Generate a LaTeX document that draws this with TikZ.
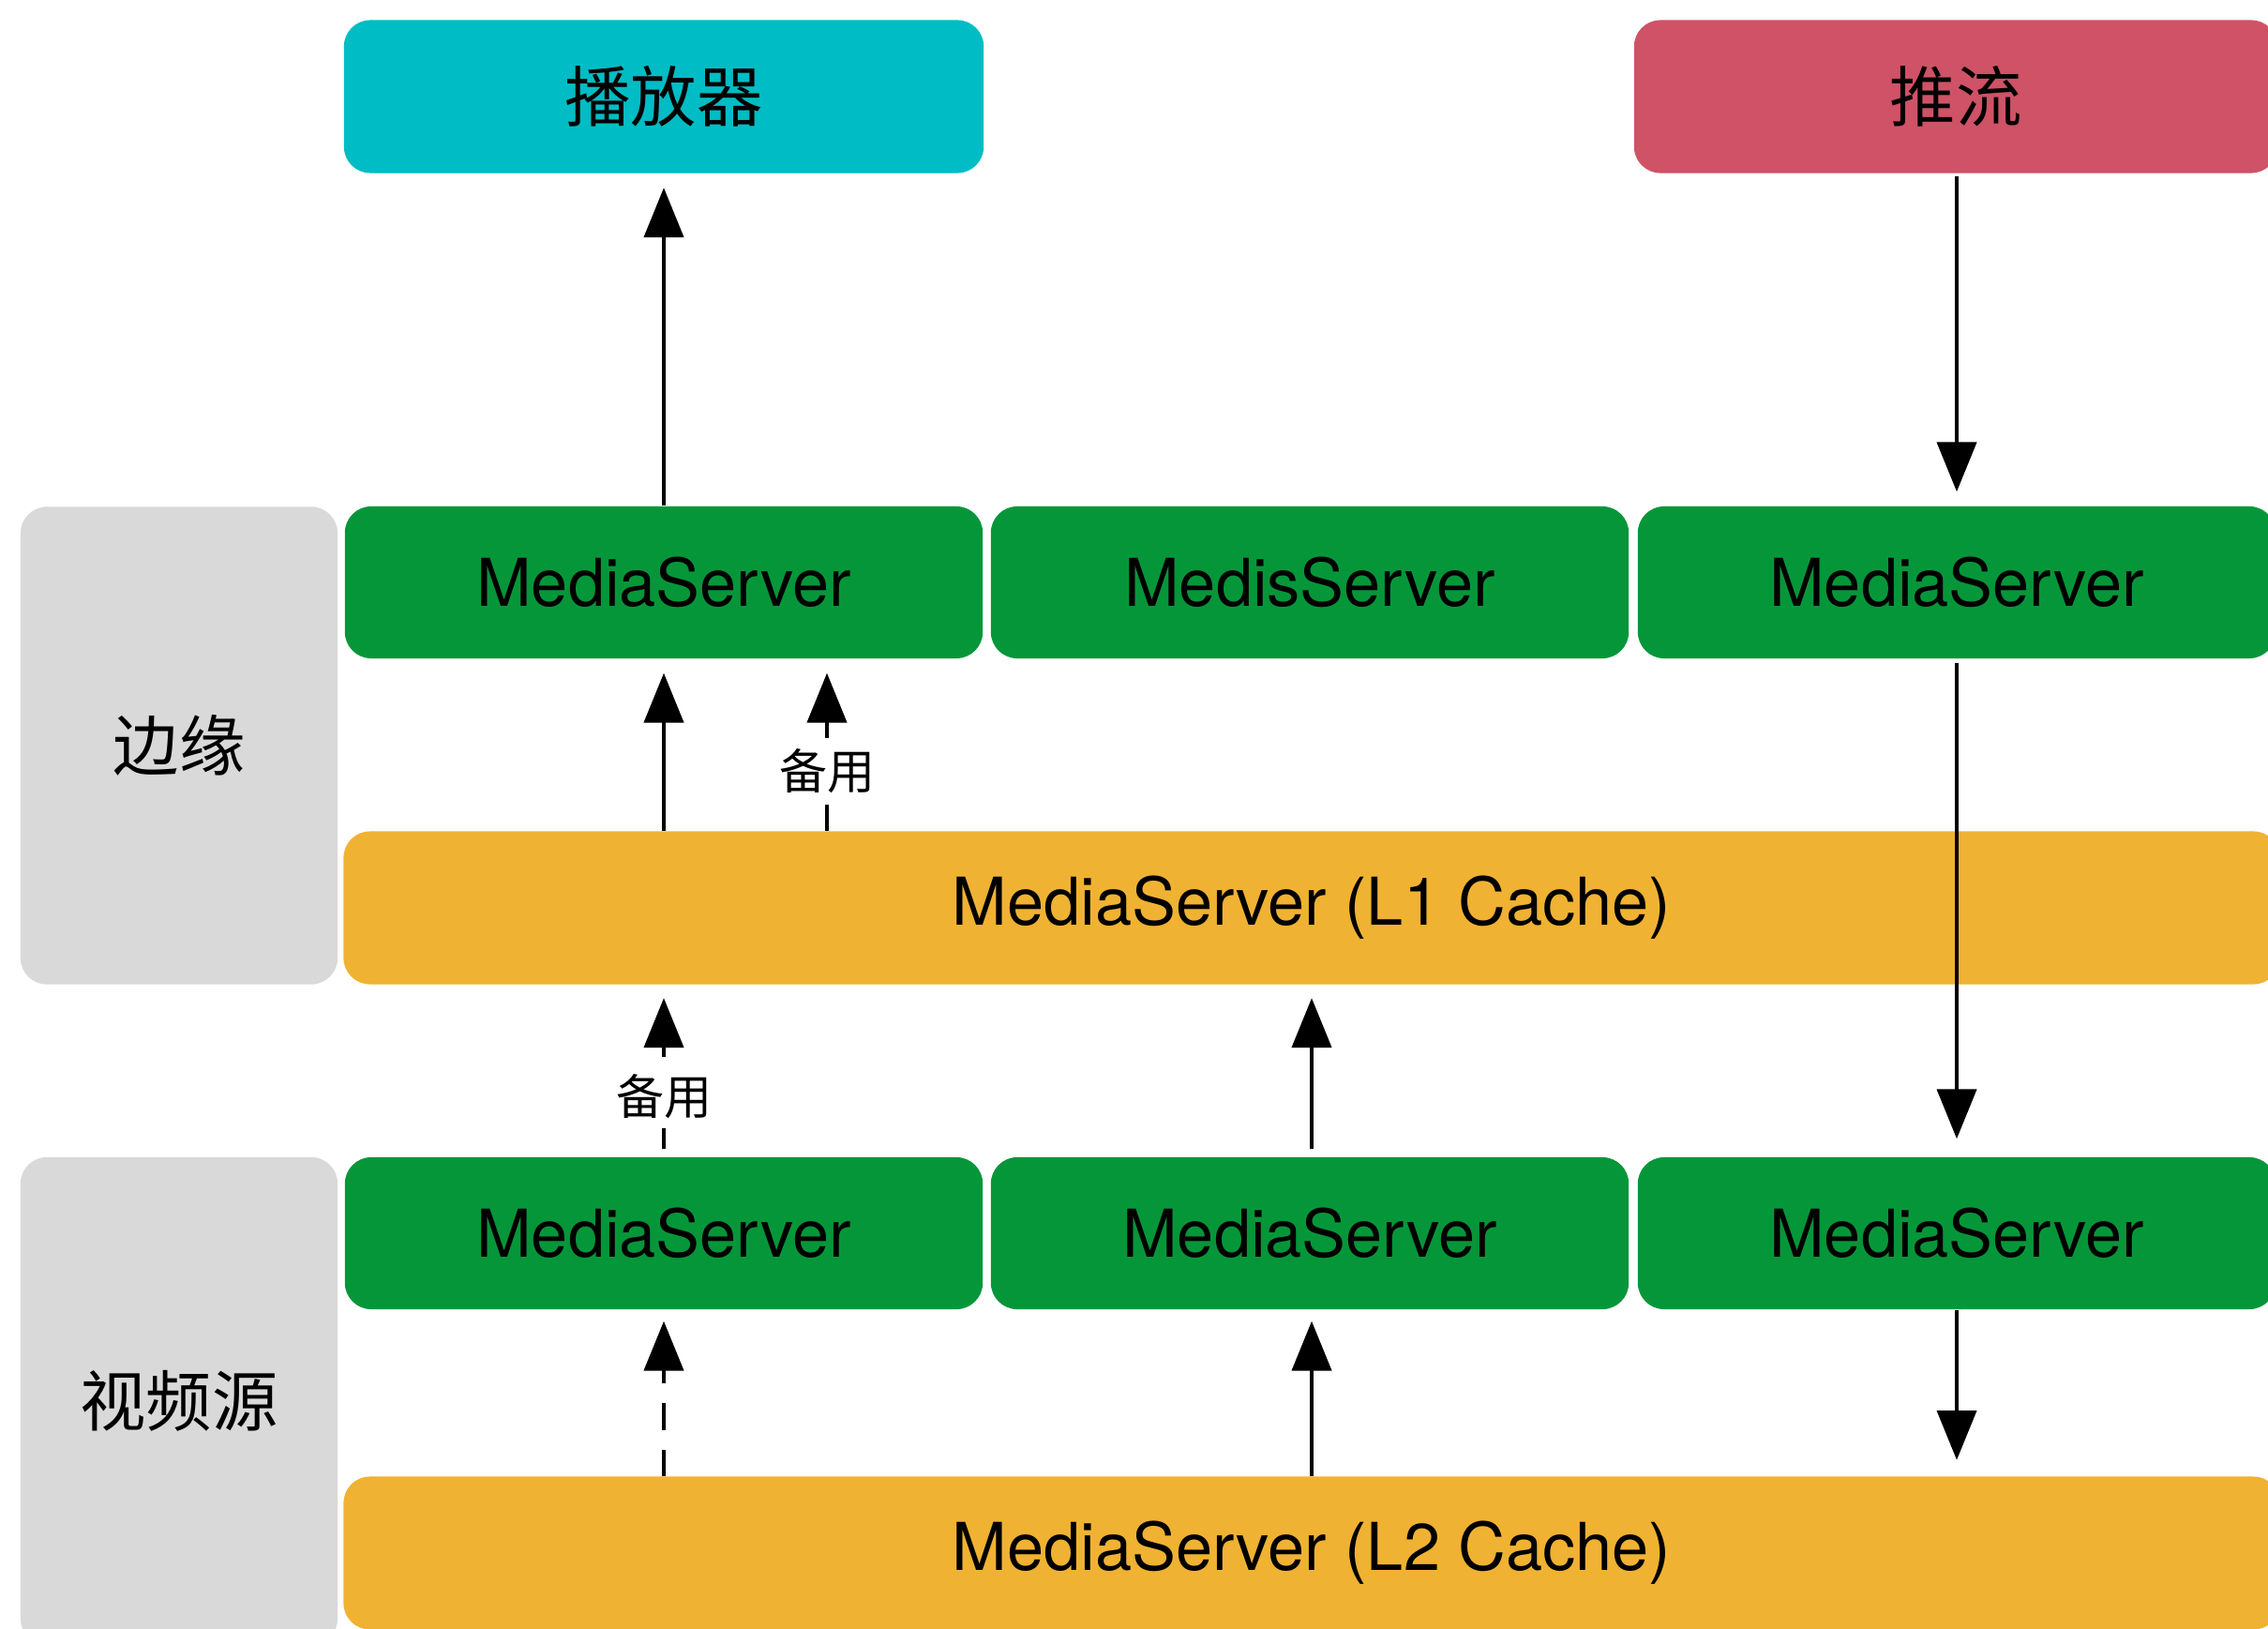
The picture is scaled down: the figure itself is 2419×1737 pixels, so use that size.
\documentclass[tikz,border=0pt]{standalone}
\usepackage{fontspec}
\setmainfont{TeX Gyre Heros}
\newfontfamily\cjk{Noto Sans CJK SC}
\usetikzlibrary{arrows.meta}
\definecolor{playcol}{RGB}{0,188,196}
\definecolor{pushcol}{RGB}{207,82,102}
\definecolor{srvcol}{RGB}{6,150,58}
\definecolor{cachecol}{RGB}{240,178,50}
\definecolor{layercol}{RGB}{217,217,217}
\tikzstyle{boxb}=[rounded corners=8pt,inner sep=0pt,font=\fontsize{20pt}{24pt}\selectfont]
\tikzstyle{srv}=[boxb,fill=srvcol,minimum width=6.8cm,minimum height=1.62cm]
\tikzstyle{cache}=[boxb,fill=cachecol,minimum width=20.64cm,minimum height=1.63cm]
\tikzstyle{layer}=[boxb,fill=layercol,minimum width=3.38cm,minimum height=5.09cm]
\tikzstyle{arr}=[line width=0.9pt,-{Triangle[length=15pt,width=12pt]}]
\tikzstyle{spare}=[pos=0.35,fill=white,inner sep=3pt,font=\cjk\fontsize{14.5pt}{16pt}\selectfont]

\begin{document}
\begin{tikzpicture}[x=0.01cm,y=-0.01cm]
    \useasboundingbox (0,0) rectangle (2419,1737);
    \clip (0,0) rectangle (2419,1737);
    % top
    \node[boxb,fill=playcol,minimum width=6.82cm,minimum height=1.63cm] (player) at (708,103) {\cjk 播放器};
    \node[boxb,fill=pushcol,minimum width=6.86cm,minimum height=1.63cm] (push) at (2086,103) {\cjk 推流};
    % layers
    \node[layer] (edge) at (191,795) {\cjk 边缘};
    \node[layer,minimum height=5.2cm] (source) at (191,1494) {\cjk 视频源};
    % edge row
    \node[srv] (e1) at (708,621) {MediaServer};
    \node[srv] (e2) at (1397,621) {MedisServer};
    \node[srv] (e3) at (2087,621) {MediaServer};
    \node[cache] (l1) at (1399,968) {MediaServer (L1 Cache)};
    % source row
    \node[srv] (s1) at (708,1315) {MediaServer};
    \node[srv] (s2) at (1397,1315) {MediaServer};
    \node[srv] (s3) at (2087,1315) {MediaServer};
    \node[cache] (l2) at (1399,1656) {MediaServer (L2 Cache)};

    \coordinate (c1) at (708,0);
    \coordinate (c2) at (882,0);
    \coordinate (c3) at (1399,0);
    \coordinate (c4) at (2087,0);

    \draw[arr,shorten >=0.15cm] (e1.north) -- (player.south);
    \draw[arr,shorten <=0.03cm,shorten >=0.15cm] (push.south -| c4) -- (e3.north);
    \draw[arr,shorten >=0.15cm] (l1.north -| c1) -- (e1.south);
    \draw[arr,dashed,dash pattern=on 8pt off 6pt,shorten >=0.15cm] (l1.north -| c2) -- (e1.south -| c2) node[spare] {备用};
    \draw[arr,shorten <=0.04cm,shorten >=0.19cm] (e3.south) -- (s3.north);
    \draw[arr,dashed,dash pattern=on 8pt off 6pt,shorten <=0.08cm,shorten >=0.14cm] (s1.north) -- (l1.south -| c1) node[spare] {备用};
    \draw[arr,shorten <=0.08cm,shorten >=0.14cm] (s2.north -| c3) -- (l1.south -| c3);
    \draw[arr,dashed,dash pattern=on 8pt off 6pt,shorten >=0.12cm] (l2.north -| c1) -- (s1.south);
    \draw[arr,shorten >=0.12cm] (l2.north -| c3) -- (s2.south -| c3);
    \draw[arr,shorten >=0.17cm] (s3.south) -- (l2.north -| c4);
\end{tikzpicture}
\end{document}
